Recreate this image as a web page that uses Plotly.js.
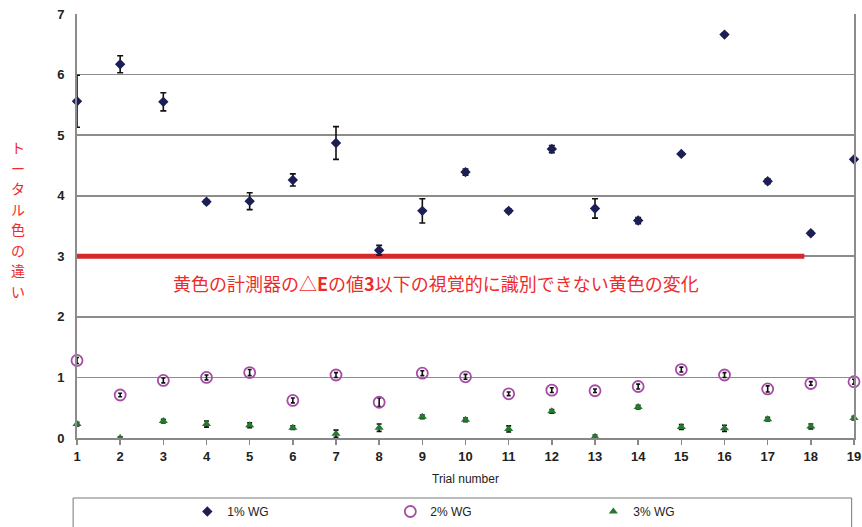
<!DOCTYPE html>
<html>
<head>
<meta charset="utf-8">
<script src="https://cdn.plot.ly/plotly-3.0.1.min.js"></script>
<style>html,body{margin:0;padding:0;background:#fff;}#chart{width:862px;height:527px;}</style>
</head>
<body>
<div id="chart"></div>
<script>
const trials = [1,2,3,4,5,6,7,8,9,10,11,12,13,14,15,16,17,18,19];
const wg1 = [5.56,6.17,5.55,3.90,3.91,4.26,4.87,3.10,3.75,4.39,3.75,4.77,3.79,3.59,4.69,6.66,4.24,3.38,4.60];
const wg1Err = [0.43,0.14,0.15,0.03,0.14,0.10,0.27,0.08,0.20,0.05,0.03,0.06,0.16,0.05,0.02,0.02,0.04,0.03,0.02];
const wg2 = [1.28,0.71,0.95,1.00,1.08,0.62,1.04,0.59,1.07,1.01,0.73,0.79,0.78,0.85,1.13,1.04,0.81,0.90,0.93];
const wg2Err = [0.05,0.03,0.04,0.04,0.05,0.04,0.04,0.07,0.04,0.04,0.03,0.04,0.03,0.04,0.04,0.04,0.05,0.03,0.04];
const wg3 = [0.23,0.00,0.28,0.23,0.21,0.17,0.07,0.17,0.35,0.30,0.15,0.44,0.02,0.51,0.18,0.16,0.31,0.19,0.33];
const wg3Err = [0.03,0.02,0.03,0.05,0.04,0.03,0.06,0.06,0.03,0.03,0.05,0.03,0.03,0.03,0.04,0.05,0.03,0.04,0.03];
const thresholdX = [1, 17.85];
const thresholdY = [3, 3];
const seriesNames = ['1% WG','2% WG','3% WG'];
const xTicks = trials;
const yTicks = [0,1,2,3,4,5,6,7];
const noteText = '黄色の計測器の△<b>E</b>の値<b>3</b>以下の視覚的に識別できない黄色の変化';
const yTitleChars = ['ト','ー','タ','ル','色','の','違','い'];

const errStyle = (arr, w) => ({type:'data', array:arr, visible:true, color:'#111', thickness:1.6, width:w});

const traces = [
  {x:thresholdX, y:thresholdY, mode:'lines', line:{color:'#d42a2a', width:5}, showlegend:false, hoverinfo:'skip', cliponaxis:false},
  {x:trials, y:wg1, name:seriesNames[0], mode:'markers', cliponaxis:false,
   marker:{symbol:'diamond', size:8, color:'#1c1f55'}, error_y:errStyle(wg1Err,3)},
  {x:trials, y:wg2, name:seriesNames[1], mode:'markers', cliponaxis:false,
   marker:{symbol:'circle-open', size:11, color:'#a64ca6', line:{width:1.8, color:'#a64ca6'}}, error_y:errStyle(wg2Err,2)},
  {x:trials, y:wg3, name:seriesNames[2], mode:'markers', cliponaxis:false,
   marker:{symbol:'triangle-up', size:8, color:'#237a2e'}, error_y:errStyle(wg3Err,2.5)}
];

// vertical stacked axis title, one annotation per character
const titleCenter = 219, titleStep = 20.5;
const plotTop = 14, plotH = 424;
const yTitleAnns = yTitleChars.map((ch, i) => ({
  x:-0.0758, y:(plotTop + plotH - (titleCenter + (i - 3.5)*titleStep)) / plotH,
  xref:'paper', yref:'paper', xanchor:'center', yanchor:'middle', borderpad:0,
  text:ch, showarrow:false, font:{size:14, family:'Noto Sans CJK JP, sans-serif', color:'#ee2b2b'}
}));

const layout = {
  width:862, height:527,
  margin:{l:77, r:8, t:14, b:89},
  paper_bgcolor:'#fff', plot_bgcolor:'#fff',
  font:{family:'Liberation Sans, Arial, sans-serif', color:'#222'},
  xaxis:{range:[1,19], tickvals:xTicks, ticks:'outside', ticklen:5, tickcolor:'#888', tickwidth:1.5,
    showgrid:false, zeroline:false, showline:true, linecolor:'#888', linewidth:2,
    tickfont:{size:13, family:'Liberation Sans, Arial, sans-serif', color:'#222', weight:'bold'},
    title:{text:'Trial number', font:{size:12, family:'Liberation Sans Narrow, Arial Narrow, sans-serif', color:'#222'}, standoff:12}},
  yaxis:{range:[0,7], tickvals:yTicks, ticks:'', showgrid:true, gridcolor:'#8c8c8c', gridwidth:1.6,
    zeroline:false, showline:true, mirror:true, linecolor:'#8c8c8c', linewidth:2, ticklabelstandoff:8,
    tickfont:{size:13, family:'Liberation Sans, Arial, sans-serif', color:'#222', weight:'bold'}},
  legend:{orientation:'h', x:0.142, xanchor:'left', yref:'container', y:0.0569, yanchor:'top',
    bgcolor:'rgba(0,0,0,0)', entrywidth:158, entrywidthmode:'pixels', itemwidth:30, tracegroupgap:0,
    font:{size:12, family:'Liberation Sans Narrow, Arial Narrow, sans-serif', color:'#222'}},
  shapes:[{type:'rect', xref:'paper', yref:'paper', x0:-0.005, x1:0.997, y0:-0.1415, y1:-0.23,
    line:{color:'#777', width:1}, fillcolor:'rgba(0,0,0,0)', layer:'below'}],
  annotations:[
    {x:9.31, y:2.56, xref:'x', yref:'y', text:noteText, showarrow:false,
     font:{size:18, family:'Noto Sans CJK JP, sans-serif', color:'#ee2b2b'}}
  ].concat(yTitleAnns)
};

Plotly.newPlot('chart', traces, layout, {staticPlot:true, displayModeBar:false});
</script>
</body>
</html>
